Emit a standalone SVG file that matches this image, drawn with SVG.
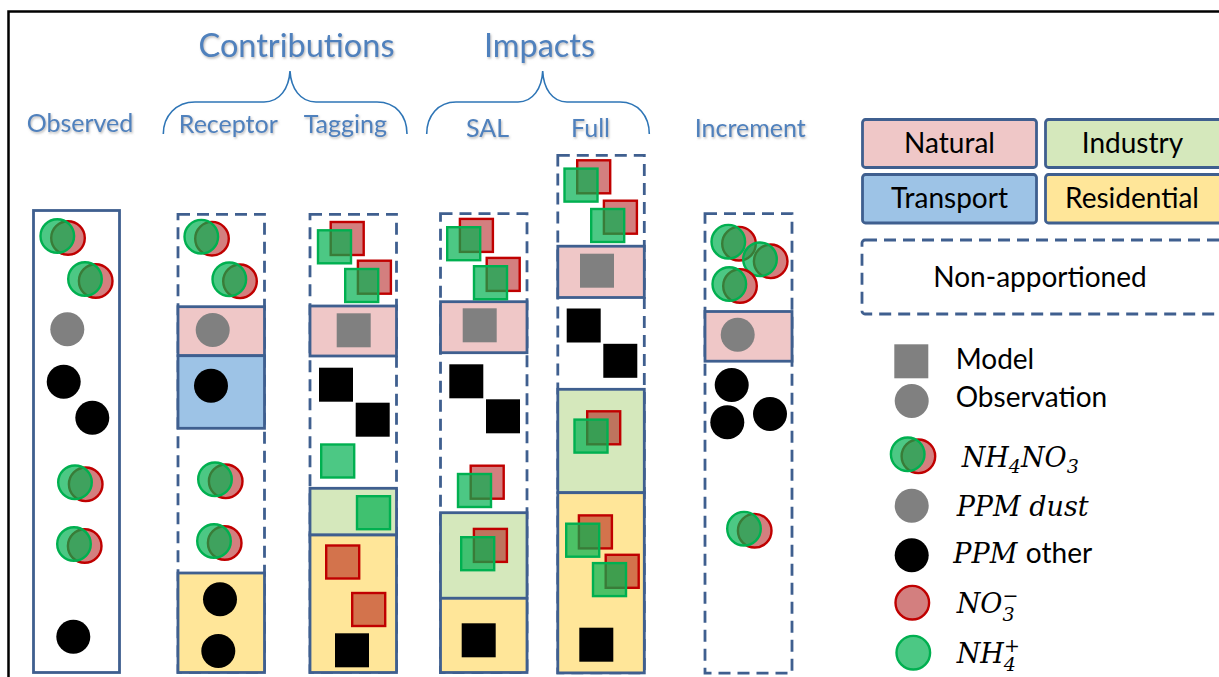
<svg xmlns="http://www.w3.org/2000/svg" xmlns:xlink="http://www.w3.org/1999/xlink" width="1219" height="677" viewBox="0 0 1219 677">
<style>
.frame{fill:none;stroke:#000;stroke-width:2.5}
.dash{fill:none;stroke:#3f5f8f;stroke-width:2.8;stroke-dasharray:12 7}
.solid{stroke:#3f5f8f;stroke-width:2.8}
.nat{fill:#efc7c7}.ind{fill:#d5e8bc}.tra{fill:#9dc3e6}.res{fill:#ffe699}.wh{fill:#fff}
.r{fill:#a80000;fill-opacity:.5;stroke:#c00000;stroke-width:2.4}
.g{fill:#00b050;fill-opacity:.7;stroke:#00b050;stroke-width:2.4}
.gr{fill:#808080}.bk{fill:#000}
.brace{fill:none;stroke:#2e75b6;stroke-width:1.6}
.title{font-family:Lato,"Liberation Sans",sans-serif;fill:#4f81bd;text-anchor:middle}
.lg{font-family:Lato,"Liberation Sans",sans-serif;fill:#000;font-size:28px}
.lgc{font-family:Lato,"Liberation Sans",sans-serif;fill:#000;font-size:28px;text-anchor:middle}
.m{font-family:"DejaVu Serif","Liberation Serif",serif;font-style:italic;font-size:27px;fill:#000}
</style>
<defs>
<filter id="sh" x="-10%" y="-30%" width="130%" height="160%">
<feDropShadow dx="1" dy="1.5" stdDeviation="1.2" flood-color="#7f7f7f" flood-opacity="0.55"/>
</filter>
<g id="cp"><circle class="r" cx="10.7" cy="2" r="16.8"/><circle class="g" cx="0" cy="0" r="16.8"/></g>
<g id="sp"><rect class="r" x="12.7" y="-8.3" width="33" height="33"/><rect class="g" x="0" y="0" width="33" height="33"/></g>
</defs>

<rect class="frame" x="8.5" y="11.5" width="1300" height="700"/>

<g id="titles" filter="url(#sh)">
<text class="title" x="296.5" y="57" font-size="32.5">Contributions</text>
<text class="title" x="539.5" y="57" font-size="32.5">Impacts</text>
<text class="title" x="80" y="132" font-size="25">Observed</text>
<text class="title" x="228.3" y="133" font-size="25">Receptor</text>
<text class="title" x="345.3" y="133" font-size="25">Tagging</text>
<text class="title" x="487.5" y="137" font-size="25">SAL</text>
<text class="title" x="590.5" y="137" font-size="25">Full</text>
<text class="title" x="750.3" y="137" font-size="25">Increment</text>
</g>

<g id="braces">
<path class="brace" d="M163.3,134 C163.3,116 176,102 195,102 L264,102 C280,102 289,88 290,71 C291,88 300,102 316,102 L377,102 C396,102 407,116 407,134"/>
<path class="brace" d="M426.7,134 C426.7,116 438,102 456,102 L518,102 C533,102 542,88 542.7,71 C543.4,88 552,102 567,102 L620,102 C638,102 649.3,116 649.3,134"/>
</g>

<g id="observed">
<rect class="solid wh" x="33.5" y="210.5" width="86" height="462"/>
<use xlink:href="#cp" x="57.3" y="236"/>
<use xlink:href="#cp" x="85" y="279"/>
<circle class="gr" cx="67.3" cy="329.3" r="17"/>
<circle class="bk" cx="63.7" cy="381.7" r="17"/>
<circle class="bk" cx="92.3" cy="417.7" r="17"/>
<use xlink:href="#cp" x="75" y="482.3"/>
<use xlink:href="#cp" x="74" y="544"/>
<circle class="bk" cx="73.3" cy="636.7" r="17"/>
</g>

<g id="receptor">
<rect class="dash" x="178" y="214.3" width="86.5" height="458"/>
<rect class="solid nat" x="178" y="306.7" width="86.5" height="49"/>
<rect class="solid tra" x="178" y="355.7" width="86.5" height="72.6"/>
<rect class="solid res" x="178" y="573" width="86.5" height="99.5"/>
<use xlink:href="#cp" x="201.3" y="236.7"/>
<use xlink:href="#cp" x="229.3" y="279.3"/>
<circle class="gr" cx="212.7" cy="330" r="17"/>
<circle class="bk" cx="211" cy="385.7" r="17"/>
<use xlink:href="#cp" x="215" y="479.3"/>
<use xlink:href="#cp" x="214" y="541"/>
<circle class="bk" cx="220" cy="599.3" r="17"/>
<circle class="bk" cx="218.3" cy="651" r="17"/>
</g>

<g id="tagging">
<rect class="dash" x="310" y="214.3" width="86.5" height="458"/>
<rect class="solid nat" x="310" y="306" width="86.5" height="50"/>
<rect class="solid ind" x="310" y="488.3" width="86.5" height="46.7"/>
<rect class="solid res" x="310" y="535" width="86.5" height="137.5"/>
<use xlink:href="#sp" x="318" y="230.3"/>
<use xlink:href="#sp" x="345.2" y="269"/>
<rect class="gr" x="336.7" y="313.3" width="34" height="34"/>
<rect class="bk" x="319" y="367.7" width="34" height="34"/>
<rect class="bk" x="355.7" y="402.7" width="34" height="34"/>
<rect class="g" x="321.2" y="444.5" width="33" height="33"/>
<rect class="g" x="357" y="496.2" width="33" height="33"/>
<rect class="r" x="326.2" y="545.5" width="33" height="33"/>
<rect class="r" x="352.2" y="593" width="33" height="33"/>
<rect class="bk" x="335" y="633.3" width="34" height="34"/>
</g>

<g id="sal">
<rect class="dash" x="440.5" y="213.7" width="86.5" height="459"/>
<rect class="solid nat" x="440.5" y="301.7" width="86.5" height="51"/>
<rect class="solid ind" x="440.5" y="512.7" width="86.5" height="85.6"/>
<rect class="solid res" x="440.5" y="598.3" width="86.5" height="74.2"/>
<use xlink:href="#sp" x="447.2" y="227.2"/>
<use xlink:href="#sp" x="474" y="266.2"/>
<rect class="gr" x="462.7" y="308.3" width="34" height="34"/>
<rect class="bk" x="449.3" y="364.3" width="34" height="34"/>
<rect class="bk" x="486" y="399.3" width="34" height="34"/>
<use xlink:href="#sp" x="458" y="474"/>
<use xlink:href="#sp" x="461.2" y="537.2"/>
<rect class="bk" x="461.7" y="623.3" width="34" height="34"/>
</g>

<g id="full">
<rect class="dash" x="557.8" y="155.4" width="86.5" height="517.5"/>
<rect class="solid nat" x="557.8" y="246.2" width="86.5" height="51.3"/>
<rect class="solid ind" x="557.8" y="389.3" width="86.5" height="103.4"/>
<rect class="solid res" x="557.8" y="492.7" width="86.5" height="180.2"/>
<use xlink:href="#sp" x="564.5" y="168.6"/>
<use xlink:href="#sp" x="591.2" y="209"/>
<rect class="gr" x="580" y="253.7" width="34" height="34"/>
<rect class="bk" x="566.7" y="308.5" width="34" height="34"/>
<rect class="bk" x="603.3" y="343.8" width="34" height="34"/>
<use xlink:href="#sp" x="574.5" y="419.6"/>
<use xlink:href="#sp" x="566.2" y="523.7"/>
<use xlink:href="#sp" x="593" y="563.1"/>
<rect class="bk" x="579.3" y="627.7" width="34" height="34"/>
</g>

<g id="increment">
<rect class="dash" x="705" y="213.7" width="87" height="459.5"/>
<rect class="solid nat" x="705" y="311.5" width="87" height="49.7"/>
<use xlink:href="#cp" x="728.3" y="241.7"/>
<use xlink:href="#cp" x="760" y="259.3"/>
<use xlink:href="#cp" x="729.3" y="284"/>
<circle class="gr" cx="737.7" cy="334.7" r="17"/>
<circle class="bk" cx="731.7" cy="385" r="17"/>
<circle class="bk" cx="727.3" cy="422.3" r="17"/>
<circle class="bk" cx="770" cy="414" r="17"/>
<use xlink:href="#cp" x="744" y="528.7"/>
</g>

<g id="legend-natural">
<rect class="solid nat" x="862.5" y="119.5" width="174" height="48" rx="3" stroke-width="3"/>
<text class="lgc" x="949.5" y="153">Natural</text>
</g>
<g id="legend-industry">
<rect class="solid ind" x="1045.5" y="119.5" width="185" height="48" rx="3" stroke-width="3"/>
<text class="lgc" x="1132.5" y="153">Industry</text>
</g>
<g id="legend-transport">
<rect class="solid tra" x="862.5" y="174.5" width="174" height="48.5" rx="3" stroke-width="3"/>
<text class="lgc" x="949.5" y="208.3">Transport</text>
</g>
<g id="legend-residential">
<rect class="solid res" x="1045.5" y="174.5" width="185" height="48.5" rx="3" stroke-width="3"/>
<text class="lgc" x="1132" y="208.3">Residential</text>
</g>
<g id="legend-nonapp">
<rect class="dash" x="862" y="240" width="370" height="74" rx="3"/>
<text class="lgc" x="1040" y="286.7">Non-apportioned</text>
</g>

<g id="legend-model">
<rect class="gr" x="894.3" y="344.3" width="34" height="34"/>
<text class="lg" x="955.7" y="369">Model</text>
</g>
<g id="legend-observation">
<circle class="gr" cx="911.7" cy="401" r="17"/>
<text class="lg" x="955.7" y="406.7">Observation</text>
</g>
<g id="legend-nh4no3">
<use xlink:href="#cp" x="907.7" y="454.3"/>
<text class="m" x="961.7" y="466.7">NH<tspan font-size="19" dy="6">4</tspan><tspan dy="-6">NO</tspan><tspan font-size="19" dy="6">3</tspan></text>
</g>
<g id="legend-dust">
<circle class="gr" cx="911.7" cy="505.7" r="17"/>
<text class="m" x="956.7" y="516">PPM dust</text>
</g>
<g id="legend-other">
<circle class="bk" cx="911.7" cy="555.3" r="17"/>
<text x="953.3" y="563.3"><tspan class="m">PPM </tspan><tspan class="lg">other</tspan></text>
</g>
<g id="legend-no3">
<circle class="r" cx="912.3" cy="602.7" r="16.8"/>
<text class="m" x="956.7" y="613">NO<tspan font-size="19" dy="8">3</tspan><tspan font-size="19" dx="-12" dy="-19">−</tspan></text>
</g>
<g id="legend-nh4">
<circle class="g" cx="913.3" cy="652.7" r="16.8"/>
<text class="m" x="956.7" y="663">NH<tspan font-size="19" dy="8">4</tspan><tspan font-size="19" dx="-12" dy="-19">+</tspan></text>
</g>
</svg>
